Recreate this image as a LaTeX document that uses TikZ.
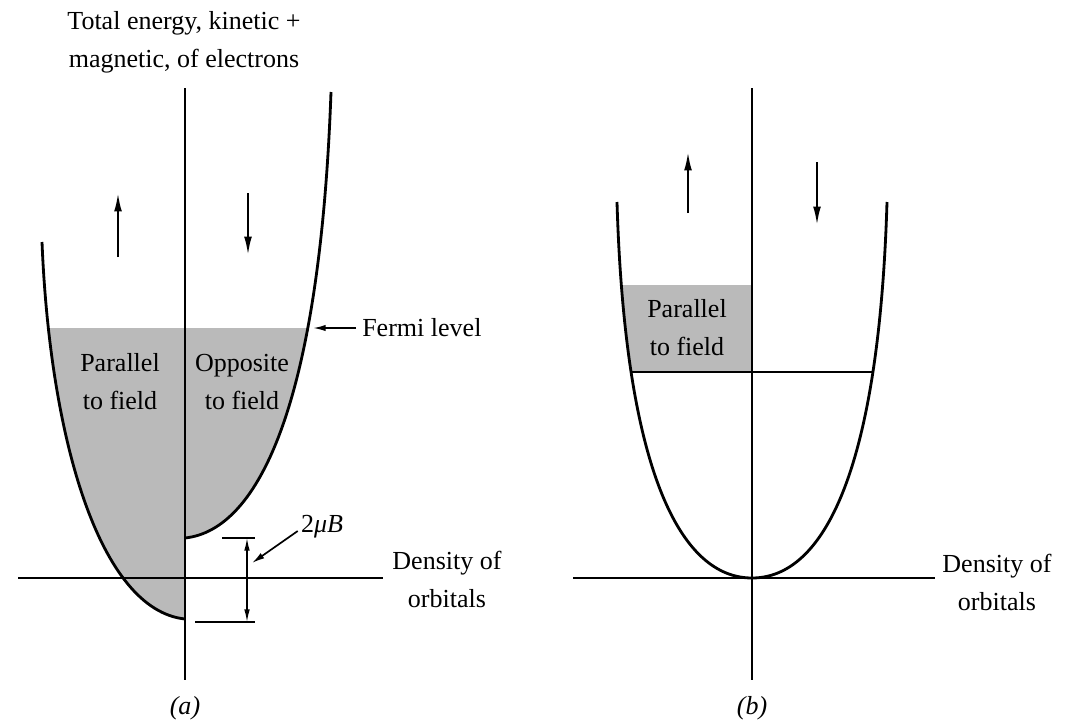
\documentclass[tikz,border=0pt]{standalone}
\usepackage{fontspec}
\setmainfont{Liberation Serif}
\usetikzlibrary{arrows.meta}

\begin{document}
\begin{tikzpicture}[x=0.025cm,y=-0.025cm,>={Latex[length=13pt,width=5.5pt]},
  lbl/.style={font=\fontsize{18.5}{27}\selectfont,align=center,inner sep=0pt},
  band/.style={line width=2pt},
  axis/.style={line width=1pt},
  spin/.style={->,line width=1.5pt},
  pointer/.style={->,line width=1.2pt,>={Latex[length=9pt,width=4.5pt]}},
  shade/.style={fill=black!27}]
  \useasboundingbox (0,0) rectangle (1067,725);

  % (a) filled states
  \begin{scope}
    \clip (42,242) .. controls (50,440) and (100,610) .. (185,619) -- (185,242) -- cycle;
    \fill[shade] (0,328) rectangle (185,700);
  \end{scope}
  \begin{scope}
    \clip (185,538) .. controls (260,530) and (320,400) .. (331,92) -- (185,92) -- cycle;
    \fill[shade] (185,328) rectangle (400,700);
  \end{scope}
  % (b) filled states
  \begin{scope}
    \clip (617,202) .. controls (625,470) and (680,578) .. (752,578) -- (752,202) -- cycle;
    \fill[shade] (600,285) rectangle (752,372);
  \end{scope}

  % axes
  \draw[axis] (185,88) -- (185,680);
  \draw[axis] (18,578) -- (383,578);
  \draw[axis] (752,88) -- (752,680);
  \draw[axis] (573,578) -- (935,578);

  % bands
  \draw[band] (42,242) .. controls (50,440) and (100,610) .. (185,619);
  \draw[band] (185,538) .. controls (260,530) and (320,400) .. (331,92);
  \draw[band] (617,202) .. controls (625,470) and (680,578) .. (752,578)
    .. controls (824,578) and (879,470) .. (887,202);
  \draw[axis] (630,372) -- (873,372);

  % labels
  \node[lbl] (title) at (184,42) {Total energy, kinetic +\\magnetic, of electrons};
  \node[lbl] (parA) at (120,382) {Parallel\\to field};
  \node[lbl] (oppA) at (242,382) {Opposite\\to field};
  \node[lbl] (parB) at (687,328) {Parallel\\to field};
  \node[lbl,anchor=west] (fermi) at (362,328) {Fermi level};
  \node[lbl] (dosA) at (447,579) {Density of\\orbitals};
  \node[lbl] (dosB) at (997,582) {Density of\\orbitals};
  \node[lbl] (capA) at (185,708) {\itshape (a)};
  \node[lbl] (capB) at (752,708) {\itshape (b)};
  \node[lbl] (split) at (322,527) {2\textit{μB}};

  % arrows
  \coordinate (fermiTip) at (313,328);
  \draw[pointer] (fermi.west) ++(-6,0) -- (fermiTip);
  \coordinate (splitTip) at (252,563);
  \draw[pointer] (split.west) ++(-3,4) -- (splitTip);
  \draw[axis] (222,538) -- (255,538);
  \draw[axis] (195,622) -- (255,622);
  \draw[<->,line width=1pt,>={Latex[length=9pt,width=4pt]}] (247,538) -- (247,622);

  \draw[spin] (118,257) -- (118,193);
  \draw[spin] (248,193) -- (248,255);
  \draw[spin] (688,213) -- (688,152);
  \draw[spin] (817,162) -- (817,225);
\end{tikzpicture}
\end{document}
